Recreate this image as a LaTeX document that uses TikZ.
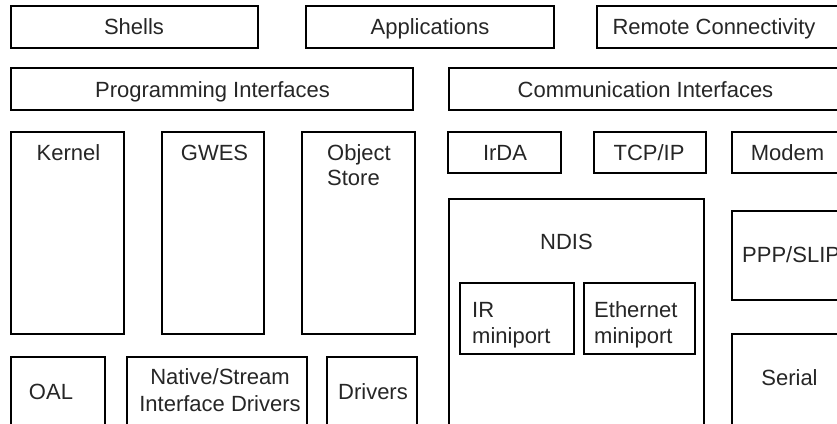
\documentclass[tikz,border=0pt]{standalone}
\usepackage{fontspec}
\setmainfont{Liberation Sans}
\usetikzlibrary{fit}
\begin{document}
\begin{tikzpicture}[x=1pt,y=-1pt,
  box/.style={draw=black, line width=1.4pt, inner sep=0pt, fit={#1}},
  txt/.style={inner sep=0pt, anchor=base, text=black!85, font=\fontsize{22}{26}\selectfont},
  txtl/.style={txt, anchor=base west}]
\useasboundingbox (0,0) rectangle (837,423);
\fill[white] (0,0) rectangle (837,423);
\clip (0,0) rectangle (837,423);

% top layer
\node[box={(11,6) (258,48)}] (shells) {};
\node[txt] (tshells) at (134,34.5) {Shells};
\node[box={(306,6) (554,48)}] (apps) {};
\node[txt] (tapps) at (430,34.5) {Applications};
\node[box={(597,6) (850,48)}] (remote) {};
\node[txt] (tremote) at (714,34.5) {Remote Connectivity};

% interfaces
\node[box={(11,68) (413,110)}] (prog) {};
\node[txt] (tprog) at (212.5,97) {Programming Interfaces};
\node[box={(449,68) (850,110)}] (comm) {};
\node[txt] (tcomm) at (645.5,97) {Communication Interfaces};

% core modules
\node[box={(11,132) (124,334)}] (kernel) {};
\node[txt] (tkernel) at (68.5,160) {Kernel};
\node[box={(162,132) (264,334)}] (gwes) {};
\node[txt] (tgwes) at (214.5,160) {GWES};
\node[box={(302,132) (415,334)}] (objstore) {};
\node[txtl] (tobj1) at (327,160) {Object};
\node[txtl] (tobj2) at (327,185) {Store};

% communication stack
\node[box={(448,132) (561,173)}] (irda) {};
\node[txt] (tirda) at (505,160) {IrDA};
\node[box={(594,132) (706,173)}] (tcpip) {};
\node[txt] (ttcpip) at (649,160) {TCP/IP};
\node[box={(732,132) (850,173)}] (modem) {};
\node[txt] (tmodem) at (787.5,160) {Modem};

\node[box={(449,199) (704,440)}] (ndis) {};
\node[txt] (tndis) at (566.5,249) {NDIS};
\node[box={(460,283) (574,354)}] (irmini) {};
\node[txtl] (tir1) at (472,317) {IR};
\node[txtl] (tir2) at (472,343) {miniport};
\node[box={(584,283) (695,354)}] (ethmini) {};
\node[txtl] (teth1) at (594,317) {Ethernet};
\node[txtl] (teth2) at (594,343) {miniport};

\node[box={(732,211) (850,300)}] (ppp) {};
\node[txtl] (tppp) at (742,262) {PPP/SLIP};
\node[box={(732,334) (850,440)}] (serial) {};
\node[txt] (tserial) at (789.5,385) {Serial};

% hardware layer
\node[box={(11,357) (105,440)}] (oal) {};
\node[txt] (toal) at (51,399) {OAL};
\node[box={(127,357) (307,440)}] (native) {};
\node[txt] (tnat1) at (220,384) {Native/Stream};
\node[txt] (tnat2) at (220,411) {Interface Drivers};
\node[box={(327,357) (417,440)}] (drivers) {};
\node[txt] (tdrivers) at (373,399) {Drivers};
\end{tikzpicture}
\end{document}
